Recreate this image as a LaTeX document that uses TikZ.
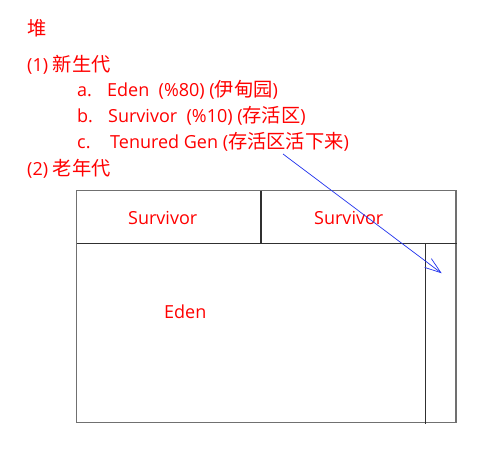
\documentclass[tikz,border=0pt]{standalone}
\usepackage{fontspec}
\setmainfont{Open Sans}
\newfontfamily\cjk[Scale=1.07]{Noto Sans CJK SC}
\usetikzlibrary{arrows.meta}
\definecolor{boxgray}{HTML}{707070}
\definecolor{linedark}{HTML}{303030}
\definecolor{arrblue}{HTML}{2233EE}
\tikzset{
  txt/.style={anchor=base west, inner sep=0pt, text=red, font=\fontsize{18}{18}\selectfont},
  outerline/.style={draw=boxgray, line width=1.2pt},
  innerline/.style={draw=linedark, line width=1.2pt},
  arr/.style={draw=arrblue, line width=0.7pt, -{Straight Barb[length=16pt,width=11pt,line width=0.7pt]}}
}
\begin{document}
\begin{tikzpicture}[x=1pt,y=1pt]
\useasboundingbox[fill=white] (0,0) rectangle (486,-457);
% text list
\node[txt] (heap) at (27,-36) {{\cjk 堆}};
\node[txt] (l1) at (27,-72) {(1) {\cjk 新生代}};
\node[txt] (la) at (77,-97) {a.};
\node[txt] (ta) at (107,-97) {Eden\ \ (\%80) ({\cjk 伊甸园})};
\node[txt] (lb) at (77,-123) {b.};
\node[txt] (tb) at (108,-123) {Survivor\ \ (\%10) ({\cjk 存活区})};
\node[txt] (lc) at (77,-148) {c.};
\node[txt] (tc) at (110,-148) {Tenured Gen ({\cjk 存活区活下来})};
\node[txt] (l2) at (27,-175) {(2) {\cjk 老年代}};
% boxes
\draw[outerline] (76.7,-190.7) rectangle (456,-422.7);
\draw[innerline] (261,-190.7) -- (261,-243.3);
\draw[innerline] (76.7,-243.3) -- (457,-243.3);
\draw[innerline] (425.3,-243.3) -- (425.3,-424);
\node[txt] (s1) at (128,-224) {Survivor};
\node[txt] (s2) at (314,-224) {Survivor};
\node[txt] (eden) at (164,-318) {Eden};
% arrow
\coordinate (arrS) at (283,-154);
\coordinate (arrE) at (441.7,-273.3);
\draw[arr] (arrS) -- (arrE);
\end{tikzpicture}
\end{document}
